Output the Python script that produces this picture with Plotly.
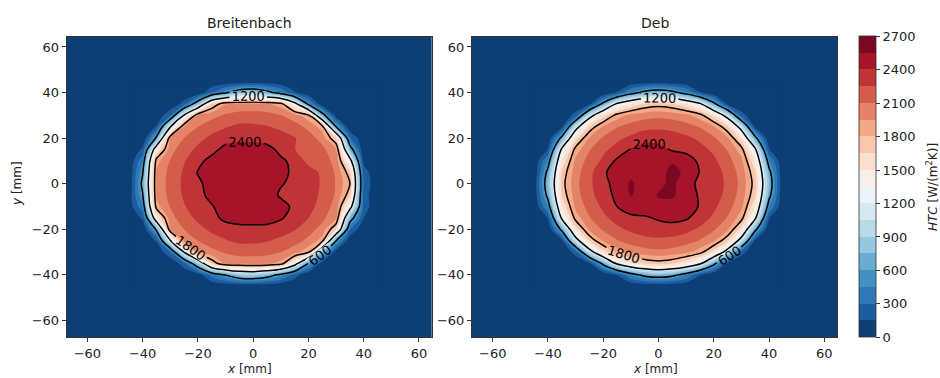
import plotly.graph_objects as go

# ---------------- data ----------------
x_mm = [-45, -40, -35, -30, -25, -20, -15, -10, -5, 0, 5, 10, 15, 20, 25, 30, 35, 40, 45]
y_mm_top_down = [45, 40, 35, 30, 25, 20, 15, 10, 5, 0, -5, -10, -15, -20, -25, -30, -35, -40, -45]

# HTC [W/(m^2 K)], rows from y = 45 (top) to y = -45 (bottom)
htc_breitenbach = [
    [0, 0, 0, 0, 0, 0, 0, 0, 0, 0, 0, 0, 0, 0, 0, 0, 0, 0, 0],
    [0, 0, 0, 0, 0, 0, 300, 550, 800, 870, 700, 460, 170, 0, 0, 0, 0, 0, 0],
    [0, 0, 0, 0, 220, 810, 1640, 1940, 1980, 1990, 1970, 1880, 1340, 520, 20, 0, 0, 0, 0],
    [0, 0, 0, 300, 1230, 1960, 2050, 2120, 2160, 2160, 2150, 2100, 2020, 1840, 740, 50, 0, 0, 0],
    [0, 0, 170, 1180, 1980, 2100, 2190, 2240, 2280, 2280, 2260, 2220, 2160, 2060, 1880, 600, 0, 0, 0],
    [0, 0, 650, 1950, 2100, 2210, 2280, 2340, 2360, 2365, 2350, 2310, 2260, 2170, 2040, 1640, 320, 0, 0],
    [0, 180, 1470, 2040, 2190, 2280, 2350, 2450, 2480, 2470, 2440, 2370, 2260, 2100, 2140, 1970, 760, 0, 0],
    [0, 430, 1890, 2110, 2240, 2360, 2450, 2480, 2490, 2490, 2470, 2420, 2370, 2200, 2190, 2040, 1340, 90, 0],
    [0, 580, 1970, 2150, 2270, 2410, 2470, 2490, 2500, 2500, 2480, 2440, 2370, 2320, 2220, 2080, 1700, 240, 0],
    [0, 670, 1980, 2160, 2280, 2370, 2460, 2490, 2500, 2500, 2490, 2410, 2370, 2330, 2230, 2090, 1810, 290, 0],
    [40, 580, 1970, 2150, 2270, 2360, 2440, 2480, 2500, 2510, 2470, 2380, 2360, 2320, 2220, 2080, 1700, 240, 0],
    [40, 430, 1890, 2110, 2240, 2330, 2390, 2460, 2490, 2500, 2490, 2450, 2370, 2300, 2190, 2040, 1340, 250, 0],
    [0, 180, 1470, 2040, 2190, 2280, 2350, 2440, 2480, 2490, 2480, 2420, 2320, 2250, 2140, 1970, 760, 150, 0],
    [0, 0, 650, 1950, 2100, 2210, 2280, 2330, 2340, 2340, 2340, 2310, 2260, 2170, 2040, 1640, 320, 0, 0],
    [0, 0, 170, 1180, 1980, 2100, 2190, 2240, 2280, 2280, 2260, 2220, 2160, 2060, 1880, 600, 0, 0, 0],
    [0, 0, 0, 300, 1230, 1960, 2050, 2120, 2160, 2160, 2150, 2100, 2020, 1840, 740, 50, 0, 0, 0],
    [0, 0, 0, 0, 250, 850, 1680, 1960, 1990, 2000, 1980, 1900, 1380, 560, 40, 0, 0, 0, 0],
    [0, 0, 0, 0, 0, 60, 380, 620, 850, 900, 760, 520, 230, 0, 0, 0, 0, 0, 0],
    [0, 0, 0, 0, 0, 0, 0, 0, 0, 0, 0, 0, 0, 0, 0, 0, 0, 0, 0],
]

htc_deb = [
    [0, 0, 0, 0, 0, 0, 0, 0, 0, 0, 0, 0, 0, 0, 0, 0, 0, 0, 0],
    [0, 0, 0, 0, 0, 0, 160, 470, 680, 770, 680, 470, 160, 0, 0, 0, 0, 0, 0],
    [0, 0, 0, 0, 100, 680, 1260, 1515, 1670, 1725, 1670, 1515, 1260, 680, 100, 0, 0, 0, 0],
    [0, 0, 0, 220, 1040, 1570, 1870, 1990, 2040, 2060, 2040, 1990, 1870, 1570, 1040, 220, 0, 0, 0],
    [0, 0, 100, 1040, 1670, 1970, 2090, 2160, 2205, 2220, 2205, 2160, 2090, 1970, 1670, 1040, 100, 0, 0],
    [0, 0, 680, 1570, 1970, 2120, 2220, 2280, 2350, 2340, 2320, 2280, 2220, 2120, 1970, 1570, 680, 0, 0],
    [0, 160, 1260, 1870, 2090, 2220, 2300, 2410, 2460, 2460, 2380, 2360, 2300, 2220, 2090, 1870, 1260, 160, 0],
    [0, 470, 1515, 1990, 2160, 2280, 2430, 2480, 2490, 2500, 2540, 2470, 2370, 2280, 2160, 1990, 1515, 470, 0],
    [0, 680, 1670, 2040, 2205, 2380, 2460, 2520, 2490, 2510, 2580, 2530, 2390, 2318, 2205, 2040, 1670, 680, 0],
    [50, 770, 1725, 2057, 2220, 2350, 2460, 2570, 2490, 2520, 2580, 2470, 2360, 2330, 2220, 2057, 1725, 770, 0],
    [30, 680, 1670, 2040, 2205, 2330, 2440, 2560, 2490, 2560, 2570, 2480, 2380, 2318, 2205, 2040, 1670, 680, 0],
    [0, 470, 1515, 1990, 2160, 2280, 2400, 2470, 2490, 2520, 2500, 2460, 2390, 2280, 2160, 1990, 1515, 470, 0],
    [0, 160, 1260, 1870, 2090, 2220, 2300, 2370, 2380, 2420, 2440, 2420, 2330, 2220, 2090, 1870, 1260, 160, 0],
    [0, 0, 680, 1570, 1970, 2120, 2220, 2280, 2320, 2330, 2340, 2300, 2220, 2120, 1970, 1570, 680, 0, 0],
    [0, 0, 100, 1040, 1670, 1970, 2090, 2160, 2205, 2220, 2205, 2160, 2090, 1970, 1670, 1040, 100, 0, 0],
    [0, 0, 0, 220, 1040, 1570, 1870, 1990, 2040, 2060, 2040, 1990, 1870, 1570, 1040, 220, 0, 0, 0],
    [0, 0, 0, 0, 100, 680, 1260, 1515, 1670, 1725, 1670, 1515, 1260, 680, 100, 0, 0, 0, 0],
    [0, 0, 0, 0, 0, 0, 160, 470, 680, 770, 680, 470, 160, 0, 0, 0, 0, 0, 0],
    [0, 0, 0, 0, 0, 0, 0, 0, 0, 0, 0, 0, 0, 0, 0, 0, 0, 0, 0],
]

panel_titles = ["Breitenbach", "Deb"]
axis_ticks = [-60, -40, -20, 0, 20, 40, 60]
cbar_ticks = [0, 300, 600, 900, 1200, 1500, 1800, 2100, 2400, 2700]
line_levels = [600, 1200, 1800, 2400]

# 18 discrete bands (0..2700, step 150), RdBu_r sampled at band centres
band_colors = [
    "rgb(13,63,118)", "rgb(28,93,160)", "rgb(46,120,181)", "rgb(65,145,194)",
    "rgb(107,172,209)", "rgb(150,199,223)", "rgb(185,217,233)", "rgb(215,232,241)",
    "rgb(236,242,245)", "rgb(249,239,234)", "rgb(252,224,207)", "rgb(250,198,172)",
    "rgb(245,168,134)", "rgb(229,131,104)", "rgb(212,92,75)", "rgb(192,52,56)",
    "rgb(166,20,41)", "rgb(124,7,34)",
]

# ---------------- figure ----------------
n = len(band_colors)
fill_scale = [[i / (n - 1), c] for i, c in enumerate(band_colors)]
bar_scale = []
for i, c in enumerate(band_colors):
    bar_scale.append([i / n, c])
    bar_scale.append([(i + 1) / n, c])

FONT = "DejaVu Sans"
y_asc = y_mm_top_down[::-1]

fig = go.Figure()
for k, z in enumerate([htc_breitenbach, htc_deb]):
    z_asc = z[::-1]
    xa = "x" if k == 0 else "x2"
    ya = "y" if k == 0 else "y2"
    fig.add_trace(go.Contour(
        x=x_mm, y=y_asc, z=z_asc, xaxis=xa, yaxis=ya,
        autocontour=False,
        contours=dict(start=150, end=2550, size=150, coloring="fill", showlines=False),
        colorscale=fill_scale, showscale=False,
        line=dict(width=0, smoothing=0.9), hoverinfo="skip",
    ))
    fig.add_trace(go.Contour(
        x=x_mm, y=y_asc, z=z_asc, xaxis=xa, yaxis=ya,
        autocontour=False,
        contours=dict(start=line_levels[0], end=line_levels[-1],
                      size=line_levels[1] - line_levels[0],
                      coloring="none", showlabels=True, labelformat="d",
                      labelfont=dict(size=13, color="black", family=FONT)),
        line=dict(color="black", width=1.5, smoothing=0.9),
        showscale=False, hoverinfo="skip",
    ))

# colour bar: a heatmap placed outside the visible axis range, used only for its scale
fig.add_trace(go.Heatmap(
    z=[[cbar_ticks[0], cbar_ticks[-1]]], x=[500, 501], y=[500],
    xaxis="x", yaxis="y", zmin=cbar_ticks[0], zmax=cbar_ticks[-1],
    colorscale=bar_scale, hoverinfo="skip",
    colorbar=dict(
        x=858.5 / 940, xanchor="left", xpad=0, ypad=0,
        y=(378 - 337.3) / 378, yanchor="bottom",
        len=(337.3 - 36.7) / 378, lenmode="fraction",
        thickness=16.5, thicknessmode="pixels",
        tickvals=cbar_ticks, ticks="outside", ticklen=4, tickcolor="#333",
        tickfont=dict(size=13, color="#222", family=FONT),
        outlinewidth=0.8, outlinecolor="#333",
    ),
))

ydom = [(378 - 337.3) / 378, (378 - 36.7) / 378]
axis_common = dict(
    tickvals=axis_ticks, ticks="outside", ticklen=4, tickcolor="#333",
    showline=True, mirror=True, linecolor="#333", linewidth=1,
    showgrid=False, zeroline=False, autorange=False,
    tickfont=dict(size=13, color="#222", family=FONT),
)
fig.update_layout(
    width=940, height=378,
    margin=dict(l=0, r=0, t=0, b=0),
    paper_bgcolor="white",
    plot_bgcolor=band_colors[0],
    font=dict(family=FONT, size=12, color="#222"),
    showlegend=False,
    xaxis=dict(domain=[66.7 / 940, 431.7 / 940], range=[-67.5, 64.6], anchor="y", **axis_common),
    yaxis=dict(domain=ydom, range=[-67.4, 64.5], anchor="x", **axis_common),
    xaxis2=dict(domain=[472 / 940, 837 / 940], range=[-67.5, 64.6], anchor="y2", **axis_common),
    yaxis2=dict(domain=ydom, range=[-67.4, 64.5], anchor="x2", **axis_common),
)

annos = [
    dict(text=panel_titles[0], x=249 / 940, y=(378 - 23) / 378, font=dict(size=14)),
    dict(text=panel_titles[1], x=654.5 / 940, y=(378 - 23) / 378, font=dict(size=14)),
    dict(text="<i>x</i> [mm]", x=249 / 940, y=(378 - 369) / 378, font=dict(size=12)),
    dict(text="<i>x</i> [mm]", x=655 / 940, y=(378 - 369) / 378, font=dict(size=12)),
    dict(text="<i>y</i> [mm]", x=17 / 940, y=(378 - 184) / 378, textangle=-90, font=dict(size=12)),
    dict(text="<i>HTC</i> [W/(m<sup>2</sup>K)]", x=932 / 940, y=(378 - 187) / 378,
         textangle=-90, font=dict(size=12)),
]
for a in annos:
    fig.add_annotation(xref="paper", yref="paper", showarrow=False,
                       xanchor="center", yanchor="middle", **a)

fig.write_html("out.html")
